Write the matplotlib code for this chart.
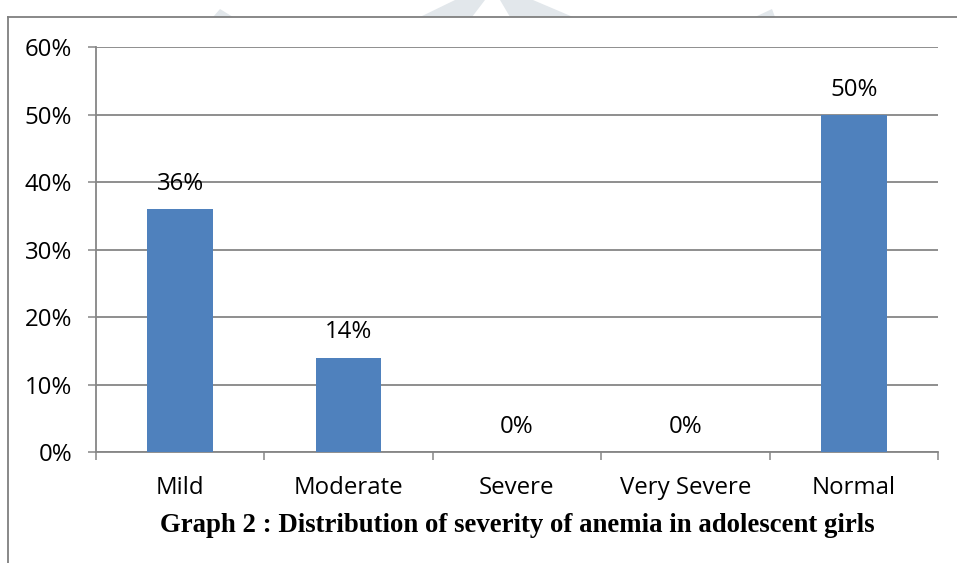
import matplotlib
matplotlib.use("Agg")
import matplotlib.pyplot as plt
from matplotlib.patches import Polygon
from matplotlib.lines import Line2D

categories = ["Mild", "Moderate", "Severe", "Very Severe", "Normal"]
percent = [36, 14, 0, 0, 50]
y_ticks = [0, 10, 20, 30, 40, 50, 60]
title = "Graph 2 : Distribution of severity of anemia in adolescent girls"

W, H = 957, 563
BAR = "#4F81BD"
GRID = "#868686"
FONT = "Open Sans"
FS = 17.3

fig = plt.figure(figsize=(W / 100, H / 100), dpi=100)
fig.patch.set_facecolor("white")


def px(x, y):
    # pixel coords (origin top-left) -> figure fraction
    return x / W, 1 - y / H


# faint watermark shapes peeking above the frame
shapes = [
    [(213, 17), (220, 9), (233, 17)],
    [(420, 17), (455, 0), (485, 0), (472, 17)],
    [(500, 0), (533, 0), (573, 17), (510, 17)],
    [(755, 17), (772, 9), (775, 17)],
]
for s in shapes:
    fig.patches.append(Polygon([px(*p) for p in s], closed=True,
                               transform=fig.transFigure, facecolor="#e2e7eb",
                               edgecolor="none", zorder=0))

# outer frame: top and left edges
fig.add_artist(Line2D([8 / W, 1], [1 - 17 / H] * 2, color="#7f7f7f", lw=1.3))
fig.add_artist(Line2D([8 / W] * 2, [1 - 17 / H, 0], color="#7f7f7f", lw=1.3))

ax = fig.add_axes([96 / W, 111 / H, (938 - 96) / W, (452 - 47) / H])
x = list(range(len(categories)))
bars = ax.bar(x, percent, width=0.39, color=BAR, zorder=3)

ax.set_xlim(-0.5, len(categories) - 0.5)
ax.set_ylim(0, 60)
ax.set_yticks(y_ticks)
ax.set_yticklabels([f"{v}%" for v in y_ticks], fontfamily=FONT, fontsize=FS)
ax.yaxis.grid(True, color=GRID, lw=1.3, zorder=0)
ax.tick_params(axis="y", length=6, width=1.1, color=GRID, pad=11)

ax.set_xticks(x)
ax.set_xticklabels(categories, fontfamily=FONT, fontsize=FS)
ax.set_xticks([i - 0.5 for i in range(len(categories) + 1)], minor=True)
ax.tick_params(axis="x", which="major", length=0, pad=17)
ax.tick_params(axis="x", which="minor", length=6, width=1.1, color=GRID)

for side in ("top", "right"):
    ax.spines[side].set_visible(False)
for side in ("left", "bottom"):
    ax.spines[side].set_color(GRID)
    ax.spines[side].set_linewidth(1.3)

for xi, v in zip(x, percent):
    ax.annotate(f"{v}%", (xi, v), xytext=(0, 18), textcoords="offset points",
                ha="center", va="center", fontfamily=FONT, fontsize=FS)

fig.text(517 / W, 1 - 525 / H, title, ha="center", va="center",
         fontfamily="Liberation Serif", fontweight="bold", fontsize=19.3)

fig.savefig("out.png", dpi=100)
